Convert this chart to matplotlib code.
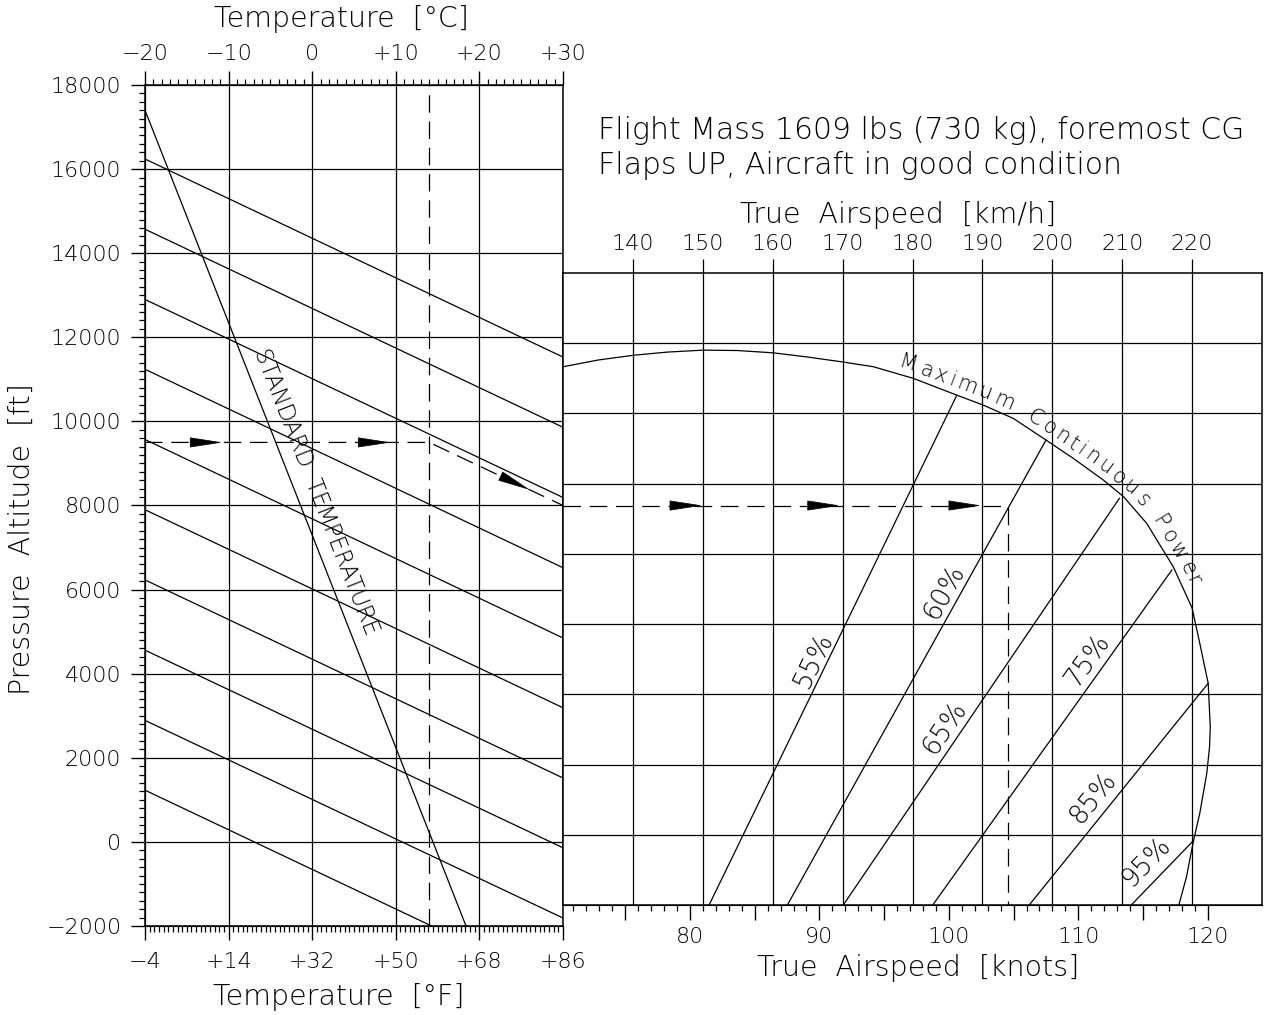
import numpy as np
import matplotlib
matplotlib.use("Agg")
import matplotlib.pyplot as plt
from matplotlib.ticker import FixedLocator, FixedFormatter
from matplotlib.patches import Polygon
from matplotlib.font_manager import FontProperties

plt.rcParams['font.family'] = ['DejaVu Sans']
plt.rcParams['font.weight'] = 'light'

# ---------------- data: left panel (temperature vs pressure altitude)
temp_c_ticks = [-20, -10, 0, 10, 20, 30]
temp_c_labels = ["\u221220", "\u221210", "0", "+10", "+20", "+30"]
temp_f_ticks = [-4, 14, 32, 50, 68, 86]
temp_f_labels = ["\u22124", "+14", "+32", "+50", "+68", "+86"]
alt_ticks = [-2000, 0, 2000, 4000, 6000, 8000, 10000, 12000, 14000, 16000, 18000]
alt_labels = ["\u22122000", "0", "2000", "4000", "6000", "8000", "10000",
              "12000", "14000", "16000", "18000"]

# sloped lines: altitude read at -20 C (left edge) and at +30 C (right edge)
slope_alt_left = [16240, 14570, 12900, 11240, 9570, 7900, 6230, 4560, 2890, 1230]
slope_alt_right = [11530, 9860, 8190, 6520, 4850, 3190, 1520, -140, -1810, -3480]

std_temp = [-20, 18.4]
std_alt = [17400, -2000]

# example (dashed) path
ex_temp = [-20, 14, 30]
ex_alt = [9500, 9500, 8000]
ex_oat = 14
ex_arrow_temp = [-11.0, 9.1, 25.8]
ex_arrow_alt = [9500, 9500, 8394]

# ---------------- data: right panel (true airspeed)
kmh_ticks = [140, 150, 160, 170, 180, 190, 200, 210, 220]
kt_major = [75, 80, 85, 90, 95, 100, 105, 110, 115, 120]
kt_labeled = [80, 90, 100, 110, 120]
kt_minor = list(range(71, 121))
right_grid_alt = [170, 1840, 3510, 5180, 6850, 8520, 10190, 11860]

# maximum continuous power boundary
mcp_kmh = [130.0, 135.0, 140.1, 145.0, 150.1, 155.0, 160.1, 165.0, 170.1, 174.4,
           180.1, 186.3, 190.1, 194.4, 199.1, 203.0, 207.3, 210.2, 213.5, 217.3,
           220.0, 221.1, 222.3, 222.6, 222.5, 222.1, 221.1, 220.2, 219.2, 218.3, 218.1]
mcp_alt = [11300, 11460, 11574, 11650, 11696, 11686, 11631, 11531, 11412, 11301,
           11025, 10628, 10390, 10074, 9557, 9122, 8606, 8209, 7577, 6545,
           5562, 4723, 3772, 2740, 2264, 1631, 680, 29, -828, -1382, -1500]

pct_labels = ["55%", "60%", "65%", "75%", "85%", "95%"]
pct_kmh_bottom = [150.9, 162.1, 170.1, 182.9, 196.7, 211.3]
pct_kmh_top = [186.3, 199.1, 209.6, 217.1, 222.3, 220.2]
pct_alt_top = [10609, 9558, 8171, 6466, 3772, 33]
pct_label_kmh = [165.8, 184.6, 184.6, 205.1, 205.8, 213.5]
pct_label_alt = [4326, 5943, 2709, 4326, 1068, -478]

ex_tas_kmh = 193.6
ex_arrow_kmh = [149.6, 169.3, 189.5]

W, H = 1284, 1015
fig = plt.figure(figsize=(W / 100, H / 100), dpi=100)
ax1 = fig.add_axes([145 / W, (H - 926) / H, 418 / W, 841 / H])
ax2 = fig.add_axes([563 / W, (H - 905) / H, 699 / W, 632 / H])

LW = 0.9
dash = (0, (14, 7))
tick_fs = 16
lab_fs = 20.5

for ax in (ax1, ax2):
    for sp in ax.spines.values():
        sp.set_linewidth(1.1)


def arrow_head(ax, tip, back, length=30, half=4.6):
    t = ax.transData.transform(tip)
    b = ax.transData.transform(back)
    d = (t - b) / np.hypot(*(t - b))
    n = np.array([-d[1], d[0]])
    base = t - d * length
    pts = np.array([t, base + n * half, base - n * half])
    ax.add_patch(Polygon(ax.transData.inverted().transform(pts), closed=True,
                         fc='k', ec='k', lw=0.5, zorder=5))


def rot_of(ax, p0, p1):
    a = ax.transData.transform(p0)
    b = ax.transData.transform(p1)
    return np.degrees(np.arctan2(b[1] - a[1], b[0] - a[0]))


# ---------------- left panel
ax1.set_xlim(-20, 30)
ax1.set_ylim(-2000, 18000)
ax1.xaxis.set_ticks_position('top')
ax1.xaxis.set_major_locator(FixedLocator(temp_c_ticks))
ax1.xaxis.set_major_formatter(FixedFormatter(temp_c_labels))
ax1.xaxis.set_minor_locator(FixedLocator(np.arange(-20, 31, 1)))
ax1.yaxis.set_major_locator(FixedLocator(alt_ticks))
ax1.yaxis.set_major_formatter(FixedFormatter(alt_labels))
ax1.yaxis.set_minor_locator(FixedLocator(np.arange(-2000, 18001, 200)))
ax1.tick_params(which='major', direction='out', length=10, width=1, labelsize=tick_fs, color='k')
ax1.tick_params(which='minor', direction='out', length=4.5, width=0.9)
ax1.tick_params(axis='x', which='both', top=True, bottom=False, pad=5)
ax1.tick_params(axis='y', which='both', left=True, right=False, pad=7)
ax1.grid(True, which='major', color='k', lw=LW)

sec1 = ax1.secondary_xaxis('bottom', functions=(lambda c: c * 9 / 5 + 32,
                                                lambda f: (f - 32) * 5 / 9))
sec1.xaxis.set_major_locator(FixedLocator(temp_f_ticks))
sec1.xaxis.set_major_formatter(FixedFormatter(temp_f_labels))
sec1.xaxis.set_minor_locator(FixedLocator(np.arange(-4, 87, 1)))
sec1.tick_params(which='major', direction='out', length=10, width=1, labelsize=tick_fs, pad=9)
sec1.tick_params(which='minor', direction='out', length=4.5, width=0.9)

for la, ra in zip(slope_alt_left, slope_alt_right):
    ax1.plot([-20, 30], [la, ra], color='k', lw=LW)
ax1.plot(std_temp, std_alt, color='k', lw=LW)

ax1.plot(ex_temp, ex_alt, color='k', lw=LW, ls=dash)
ax1.plot([ex_oat, ex_oat], [-2000, 18000], color='k', lw=LW, ls=dash)
for tx, ty in zip(ex_arrow_temp, ex_arrow_alt):
    seg = 0 if tx <= ex_oat else 1
    back = (ex_temp[seg], ex_alt[seg])
    arrow_head(ax1, (tx, ty), back)

std_rot = rot_of(ax1, (std_temp[0], std_alt[0]), (std_temp[1], std_alt[1]))
ax1.text(0.5, 8321, "STANDARD  TEMPERATURE", rotation=std_rot, rotation_mode='anchor',
         ha='center', va='center', fontsize=16.5)

ax1.text(0.47, 1.078, "Temperature  [\u00b0C]", transform=ax1.transAxes,
         ha='center', va='center', fontsize=lab_fs)
ax1.text(0.464, -0.0844, "Temperature  [\u00b0F]", transform=ax1.transAxes,
         ha='center', va='center', fontsize=lab_fs)
ax1.text(-0.294, 0.46, "Pressure  Altitude  [ft]", transform=ax1.transAxes,
         ha='center', va='center', rotation=90, fontsize=lab_fs)

# ---------------- right panel
ax2.set_xlim(130, 230)
ax2.set_ylim(-1500, 13530)
ax2.xaxis.set_ticks_position('top')
ax2.xaxis.set_major_locator(FixedLocator(kmh_ticks))
ax2.xaxis.set_major_formatter(FixedFormatter([str(v) for v in kmh_ticks]))
ax2.yaxis.set_major_locator(FixedLocator(right_grid_alt))
ax2.tick_params(axis='x', which='major', direction='out', length=10, width=LW,
                labelsize=tick_fs, pad=4, top=True, bottom=False)
ax2.tick_params(axis='y', left=False, right=False, labelleft=False)
ax2.grid(True, which='major', color='k', lw=LW)

sec2 = ax2.secondary_xaxis('bottom', functions=(lambda v: v / 1.852, lambda k: k * 1.852))
sec2.xaxis.set_major_locator(FixedLocator(kt_major))
sec2.xaxis.set_major_formatter(FixedFormatter([str(k) if k in kt_labeled else "" for k in kt_major]))
sec2.xaxis.set_minor_locator(FixedLocator(kt_minor))
sec2.tick_params(which='major', direction='out', length=10.5, width=1, labelsize=tick_fs, pad=5)
sec2.tick_params(which='minor', direction='out', length=4.5, width=0.9)

ax2.plot(mcp_kmh, mcp_alt, color='k', lw=LW)
for lab, kb, kt, at, lx, ly in zip(pct_labels, pct_kmh_bottom, pct_kmh_top, pct_alt_top,
                                   pct_label_kmh, pct_label_alt):
    ax2.plot([kb, kt], [-1500, at], color='k', lw=LW)
    r = rot_of(ax2, (kb, -1500), (kt, at))
    ax2.text(lx, ly, lab, rotation=r, rotation_mode='anchor', ha='center', va='center',
             fontsize=19)

ax2.plot([130, ex_tas_kmh, ex_tas_kmh], [8000, 8000, -1500], color='k', lw=LW, ls=dash)
for kx in ex_arrow_kmh:
    arrow_head(ax2, (kx, 8000), (130, 8000))

# "Maximum Continuous Power" written along the curve
mcp_text = "Maximum Continuous Power"
mcp_fs = 15
fp = FontProperties(family='DejaVu Sans', weight='light', size=mcp_fs)
renderer = fig.canvas.get_renderer()
pts = ax2.transData.transform(np.column_stack([mcp_kmh, mcp_alt]))
seg = np.diff(pts, axis=0)
seglen = np.hypot(seg[:, 0], seg[:, 1])
cum = np.concatenate([[0], np.cumsum(seglen)])
imax = int(np.argmax(pts[:, 0]))
start_px = ax2.transData.transform((177.6, 0))[0]
s = np.interp(start_px, pts[:imax + 1, 0], cum[:imax + 1])
for ch in mcp_text:
    if ch == " ":
        w = 0.45 * mcp_fs * 100 / 72
    else:
        w, _, _ = renderer.get_text_width_height_descent(ch, fp, ismath=False)
    c = s + w / 2
    i = min(int(np.searchsorted(cum, c)) - 1, len(seglen) - 1)
    i = max(i, 0)
    d = seg[i] / seglen[i]
    p = pts[i] + (c - cum[i]) / seglen[i] * seg[i]
    nrm = np.array([-d[1], d[0]])
    q = p + nrm * 6
    if ch != " ":
        fig.text(q[0] / W, q[1] / H, ch, rotation=np.degrees(np.arctan2(d[1], d[0])),
                 rotation_mode='anchor', ha='center', va='baseline', fontproperties=fp)
    s += w + 3

ax2.text(0.479, 1.092, "True  Airspeed  [km/h]", transform=ax2.transAxes,
         ha='center', va='center', fontsize=lab_fs)
ax2.text(0.508, -0.0997, "True  Airspeed  [knots]", transform=ax2.transAxes,
         ha='center', va='center', fontsize=lab_fs)

fig.text(598 / W, 1 - 130 / H, "Flight Mass 1609 lbs (730 kg), foremost CG",
         ha='left', va='center', fontsize=21.5)
fig.text(598 / W, 1 - 165 / H, "Flaps UP, Aircraft in good condition",
         ha='left', va='center', fontsize=21.5)

fig.savefig("out.png", dpi=100)
